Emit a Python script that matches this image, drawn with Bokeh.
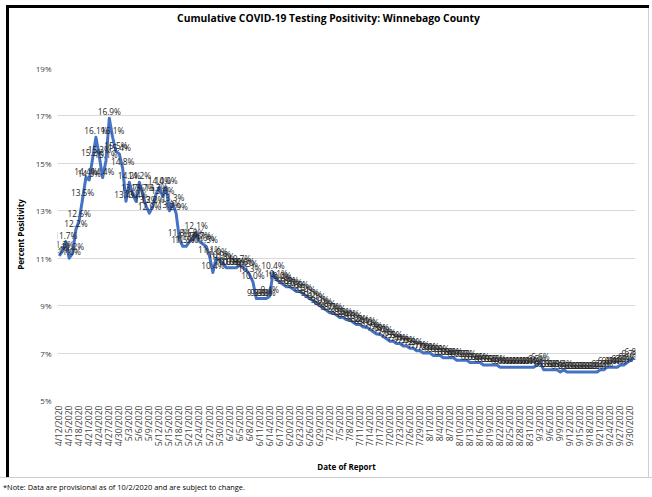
import math
import pandas as pd
from bokeh.plotting import figure
from bokeh.models import ColumnDataSource, FixedTicker, PrintfTickFormatter, LabelSet, Div, Spacer
from bokeh.layouts import column, row
from bokeh.core.properties import value
from bokeh.embed import file_html
from bokeh.resources import INLINE

start_date = "2020-04-12"
positivity = [
    11.1, 11.3, 11.7, 11.0, 11.2, 12.2, 12.6, 13.5, 14.4, 14.3,
    15.2, 16.1, 15.3, 14.4, 15.1, 16.9, 16.1, 15.5, 15.4, 14.8,
    13.4, 14.2, 13.7, 13.4, 14.2, 13.7, 13.2, 12.9, 13.2, 13.7,
    14.0, 13.6, 14.0, 13.0, 13.3, 12.9, 11.8, 11.5, 11.5, 11.7,
    11.8, 12.1, 11.7, 11.6, 11.5, 11.1, 10.4, 11.0, 10.9, 10.8,
    10.6, 10.6, 10.6, 10.6, 10.7, 10.6, 10.5, 10.3, 10.0, 9.3,
    9.3, 9.3, 9.3, 9.4, 10.4, 10.1, 10.0, 9.9, 9.8, 9.8,
    9.7, 9.6, 9.6, 9.5, 9.4, 9.3, 9.2, 9.1, 9.0, 8.9,
    8.8, 8.7, 8.7, 8.6, 8.5, 8.5, 8.4, 8.4, 8.3, 8.2,
    8.2, 8.1, 8.1, 8.0, 7.9, 7.8, 7.8, 7.7, 7.6, 7.5,
    7.5, 7.4, 7.4, 7.3, 7.3, 7.2, 7.2, 7.1, 7.1, 7.0,
    7.0, 7.0, 6.9, 6.9, 6.9, 6.8, 6.8, 6.8, 6.8, 6.7,
    6.7, 6.7, 6.7, 6.6, 6.6, 6.6, 6.6, 6.5, 6.5, 6.5,
    6.5, 6.5, 6.4, 6.4, 6.4, 6.4, 6.4, 6.4, 6.4, 6.4,
    6.4, 6.4, 6.4, 6.5, 6.6, 6.3, 6.3, 6.3, 6.3, 6.3,
    6.2, 6.3, 6.2, 6.2, 6.2, 6.2, 6.2, 6.2, 6.2, 6.2,
    6.2, 6.2, 6.3, 6.3, 6.4, 6.4, 6.4, 6.4, 6.5, 6.5,
    6.6, 6.7, 6.8,
]
dates = [f"{d.month}/{d.day}/{d.year}" for d in pd.date_range(start_date, periods=len(positivity))]
tick_step = 3
y_ticks = [5, 7, 9, 11, 13, 15, 17, 19]

N = len(positivity)
days = list(range(N))
labels = [f"{v:.1f}%" for v in positivity]
src = ColumnDataSource(dict(day=days, pos=positivity, label=labels, date=dates))

FONT = "Open Sans"
FW, FH = 639, 448

p = figure(width=FW, height=FH, x_range=(-0.5, N - 0.5), y_range=(5, 19),
           output_backend="svg", toolbar_location=None, margin=0,
           min_border_left=48, min_border_right=13, min_border_top=39, min_border_bottom=77)

p.line("day", "pos", source=src, line_color="#4472c4", line_width=3, line_join="round")

lbl = LabelSet(x="day", y="pos", text="label", source=src, text_font=value(FONT),
               text_font_size="8.3px", text_color="#262626", text_align="center",
               text_baseline="bottom", y_offset=1)
p.add_layout(lbl)

xt = list(range(0, N, tick_step))
p.xaxis.ticker = FixedTicker(ticks=xt)
p.xaxis.major_label_overrides = {i: dates[i] for i in xt}
p.xaxis.major_label_orientation = math.pi / 2
p.xaxis.major_label_text_font = FONT
p.xaxis.major_label_text_font_size = "8.6px"
p.xaxis.major_label_text_color = "#404040"
p.xaxis.major_label_standoff = 5
p.xaxis.major_tick_out = 0
p.xaxis.major_tick_in = 0
p.xaxis.major_tick_line_color = None
p.xaxis.minor_tick_line_color = None
p.xaxis.axis_line_color = None
p.xaxis.axis_label = "Date of Report"
p.xaxis.axis_label_text_font = FONT
p.xaxis.axis_label_text_font_size = "8px"
p.xaxis.axis_label_text_font_style = "bold"
p.xaxis.axis_label_text_color = "#000000"
p.xaxis.axis_label_standoff = 12

p.yaxis.ticker = FixedTicker(ticks=y_ticks)
p.yaxis.formatter = PrintfTickFormatter(format="%d%%")
p.yaxis.major_label_text_font = FONT
p.yaxis.major_label_text_font_size = "8px"
p.yaxis.major_label_text_color = "#404040"
p.yaxis.major_label_standoff = 6
p.yaxis.major_tick_out = 0
p.yaxis.major_tick_in = 0
p.yaxis.major_tick_line_color = None
p.yaxis.minor_tick_line_color = None
p.yaxis.axis_line_color = None
p.yaxis.axis_label = "Percent Positivity"
p.yaxis.axis_label_text_font = FONT
p.yaxis.axis_label_text_font_size = "8px"
p.yaxis.axis_label_text_font_style = "bold"
p.yaxis.axis_label_text_color = "#000000"
p.yaxis.axis_label_standoff = 7

p.xgrid.grid_line_color = None
p.ygrid.grid_line_color = "#d9d9d9"
p.outline_line_color = None

title_div = Div(text="Cumulative COVID-19 Testing Positivity: Winnebago County",
                width=FW, height=21, margin=0,
                styles={"font-family": FONT, "font-weight": "bold", "font-size": "10.3px",
                        "line-height": "21px", "text-align": "center", "color": "#000000"})

black_top = Div(text="", width=643, height=3, margin=0, styles={"background-color": "#000000"})
black_left = Div(text="", width=3, height=469, margin=0, styles={"background-color": "#000000"})
gray_right = Div(text="", width=1, height=469, margin=0, styles={"background-color": "#cfcfcf"})

note = Div(text="*Note: Data are provisional as of 10/2/2020 and are subject to change.",
           width=652, height=20, margin=0,
           styles={"border-top": "1px solid #cfcfcf", "font-family": FONT,
                   "font-size": "7.4px", "line-height": "18px", "color": "#000000",
                   "padding-left": "3px", "box-sizing": "border-box"})

chart = column(black_top, row(black_left, column(title_div, p, spacing=0, margin=0),
                              gray_right, spacing=0, margin=0), spacing=0, margin=0)
layout = column(Spacer(height=5, margin=0),
                row(Spacer(width=6, margin=0), chart, spacing=0, margin=0),
                note, spacing=0, margin=0)

open("out.html", "w").write(file_html(layout, INLINE))
